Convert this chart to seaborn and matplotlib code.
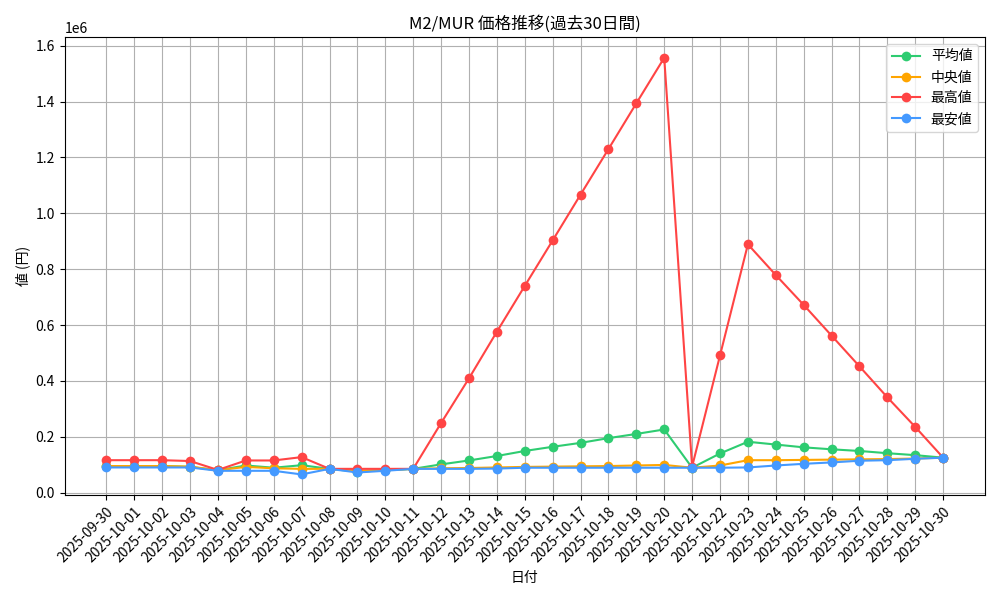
import pandas as pd
import matplotlib
matplotlib.use('Agg')
import matplotlib.pyplot as plt
import seaborn as sns

# ── Data ──────────────────────────────────────────────────────────────────────
dates = pd.date_range('2025-09-30', '2025-10-30').strftime('%Y-%m-%d').tolist()

avg_vals = [95000, 95000, 95000, 92000, 80000, 97000, 89000, 98000, 85000, 75000,
            80000, 85000, 101000, 115000, 131000, 149000, 164000, 178000, 195000, 210000,
            226000, 89000, 140000, 182000, 172000, 162000, 155000, 149000, 141000, 134000,
            125000]
median_vals = [95000, 95000, 95000, 93000, 80000, 92000, 87000, 85000, 85000, 78000,
               80000, 85000, 87000, 88000, 90000, 92000, 93000, 94000, 95000, 97000,
               99000, 89000, 97000, 116000, 116000, 117000, 118000, 119000, 120000, 122000,
               125000]
max_vals = [116000, 116000, 116000, 113000, 81000, 115000, 115000, 127000, 85000, 85000,
            85000, 85000, 249000, 409000, 576000, 740000, 903000, 1067000, 1230000, 1394000,
            1557000, 93000, 491000, 889000, 779000, 672000, 562000, 452000, 341000, 235000,
            125000]
min_vals = [90000, 90000, 90000, 90000, 78000, 78000, 78000, 65000, 85000, 72000,
            78000, 85000, 85000, 85000, 86000, 89000, 89000, 89000, 89000, 89000,
            89000, 89000, 89000, 90000, 97000, 103000, 108000, 114000, 116000, 121000,
            125000]

series = {'平均値': avg_vals, '中央値': median_vals, '最高値': max_vals, '最安値': min_vals}
colors = {'平均値': '#2ecc71', '中央値': '#ffa500', '最高値': '#ff4444', '最安値': '#4499ff'}

df = pd.DataFrame(series, index=dates).reset_index(names='date')
long = df.melt(id_vars='date', var_name='kind', value_name='price')

# ── Plot ──────────────────────────────────────────────────────────────────────
plt.rcParams['font.family'] = ['Noto Sans CJK JP', 'DejaVu Sans']
fig, ax = plt.subplots(figsize=(10, 6), dpi=100)
sns.lineplot(data=long, x='date', y='price', hue='kind', palette=colors,
             marker='o', markersize=7, markeredgewidth=0, linewidth=1.5, ax=ax)

ax.set_title('M2/MUR 価格推移(過去30日間)')
ax.set_xlabel('日付')
ax.set_ylabel('値 (円)')
ax.grid(True, color='#b0b0b0')
ax.tick_params(axis='x', rotation=45)
for lbl in ax.get_xticklabels():
    lbl.set_ha('right')
    lbl.set_rotation_mode('anchor')
ax.legend(loc='upper right', title=None)

plt.tight_layout()
plt.savefig('out.png')
